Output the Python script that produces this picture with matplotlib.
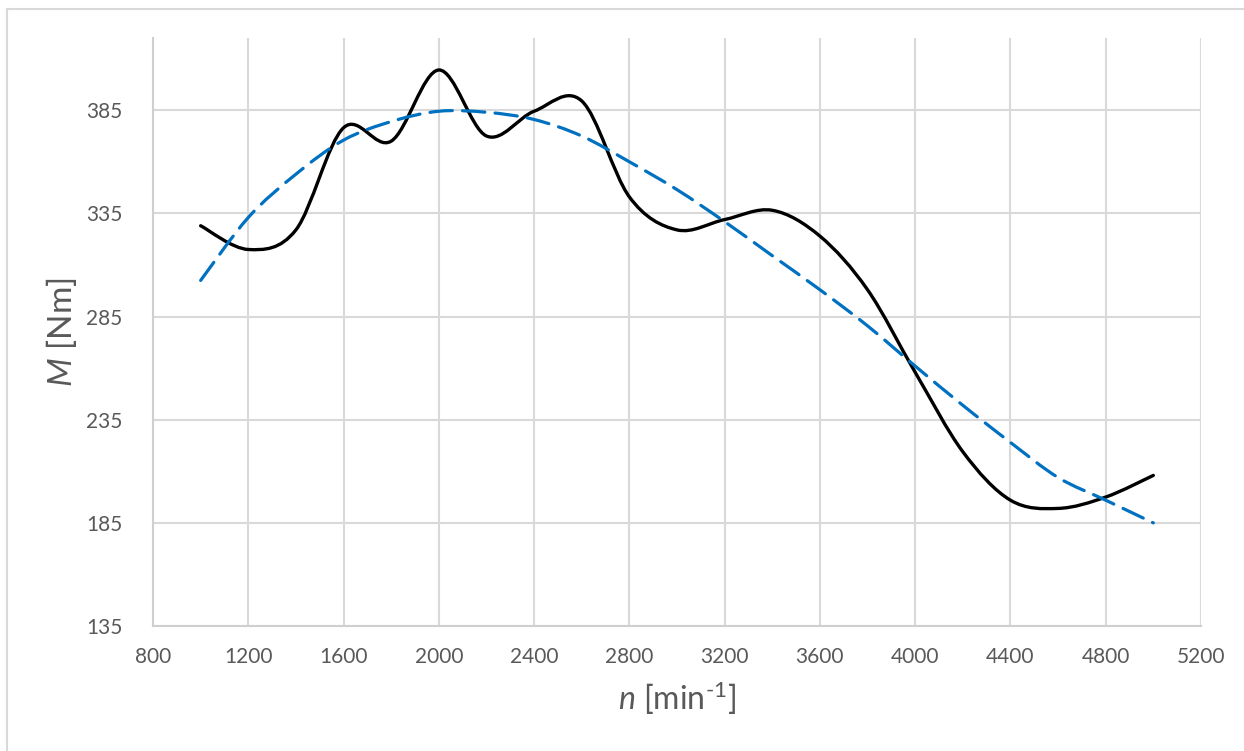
import numpy as np
import matplotlib
matplotlib.use("Agg")
import matplotlib.pyplot as plt
from matplotlib.path import Path
from matplotlib.patches import PathPatch
from matplotlib.lines import Line2D

plt.rcParams['font.family'] = ['Lato', 'DejaVu Sans']
plt.rcParams['mathtext.fontset'] = 'custom'
plt.rcParams['mathtext.rm'] = 'Lato'
plt.rcParams['mathtext.it'] = 'Lato:italic'

# engine speed [min-1]
speed = [1000, 1200, 1400, 1600, 1800, 2000, 2200, 2400, 2600, 2800, 3000,
         3200, 3400, 3600, 3800, 4000, 4200, 4400, 4600, 4800, 5000]
# measured torque [Nm]
torque = [329, 317.5, 327, 376.5, 370, 404.5, 372.5, 384.5, 389.5, 343, 327,
          332, 336.5, 324, 298, 258, 219.5, 196, 192, 197.5, 208]
# trend line [Nm]
trend = [302.5, 333, 354, 370.5, 379.5, 384.5, 384, 380.5, 372.5, 360, 346.5,
         331, 314.5, 298, 280.5, 261, 242, 224, 207, 196, 185]

xticks = [800, 1200, 1600, 2000, 2400, 2800, 3200, 3600, 4000, 4400, 4800, 5200]
yticks = [135, 185, 235, 285, 335, 385]

GRID = '#d9d9d9'
TEXT = '#595959'


def smooth_path(x, y):
    # excel-like smoothed line: bezier segments through the points
    pts = np.column_stack([x, y]).astype(float)
    n = len(pts)
    verts = [pts[0]]
    codes = [Path.MOVETO]
    for i in range(n - 1):
        p0 = pts[i - 1] if i > 0 else pts[i]
        p1 = pts[i]
        p2 = pts[i + 1]
        p3 = pts[i + 2] if i + 2 < n else pts[i + 1]
        c1 = p1 + (p2 - p0) / 6.0
        c2 = p2 - (p3 - p1) / 6.0
        verts += [c1, c2, p2]
        codes += [Path.CURVE4] * 3
    return Path(verts, codes)


fig = plt.figure(figsize=(12.44, 7.51), dpi=100)
ax = fig.add_axes([0.123, 0.1664, 0.8424, 0.783])

ax.add_patch(PathPatch(smooth_path(speed, torque), facecolor='none',
                       edgecolor='black', lw=2.4, capstyle='round', zorder=3))
ax.add_patch(PathPatch(smooth_path(speed, trend), facecolor='none',
                       edgecolor='#0070c0', lw=2.3, linestyle=(0, (7, 3.2)),
                       capstyle='round', zorder=4))

ax.set_xlim(800, 5200)
ax.set_ylim(135, 420)
ax.set_xticks(xticks)
ax.set_yticks(yticks)
ax.grid(True, color=GRID, lw=1.5)
ax.set_axisbelow(True)
ax.tick_params(length=0, labelsize=15, labelcolor=TEXT)
ax.tick_params(axis='x', pad=15)
ax.tick_params(axis='y', pad=22)
for s in ['top', 'right']:
    ax.spines[s].set_visible(False)
for s in ['left', 'bottom']:
    ax.spines[s].set_color('#cfcfcf')
    ax.spines[s].set_linewidth(1.5)
ax.axvline(5200, color=GRID, lw=1.5)

ax.set_xlabel(r'$\mathit{n}$ [min$^{\text{-1}}$]', fontsize=23, color=TEXT, labelpad=9)
ax.set_ylabel(r'$\mathit{M}$ [Nm]', fontsize=24, color=TEXT, labelpad=5)

# chart area border (top and left edges visible)
fig.add_artist(Line2D([7 / 1244, 1.0], [1 - 9 / 751, 1 - 9 / 751], color=GRID, lw=1.5))
fig.add_artist(Line2D([7 / 1244, 7 / 1244], [0, 1 - 9 / 751], color=GRID, lw=1.5))

fig.savefig('out.png', dpi=100, facecolor='white')
